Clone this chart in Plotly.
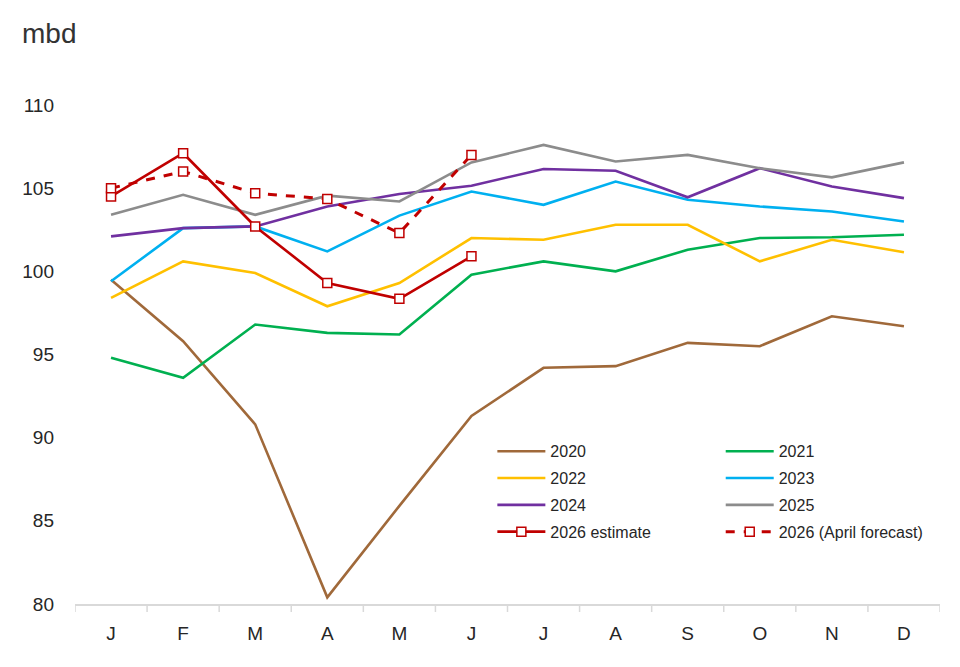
import plotly.graph_objects as go

months = ["J", "F", "M", "A", "M", "J", "J", "A", "S", "O", "N", "D"]
x_idx = list(range(12))

y2020 = [99.5, 95.8, 90.8, 80.4, 85.9, 91.3, 94.2, 94.3, 95.7, 95.5, 97.3, 96.7]
y2021 = [94.8, 93.6, 96.8, 96.3, 96.2, 99.8, 100.6, 100.0, 101.3, 102.0, 102.05, 102.2]
y2022 = [98.4, 100.6, 99.9, 97.9, 99.3, 102.0, 101.9, 102.8, 102.8, 100.6, 101.9, 101.15]
y2023 = [99.4, 102.6, 102.7, 101.2, 103.35, 104.8, 104.0, 105.4, 104.3, 103.9, 103.6, 103.0]
y2024 = [102.1, 102.6, 102.7, 103.9, 104.65, 105.15, 106.15, 106.05, 104.45, 106.2, 105.1, 104.4]
y2025 = [103.4, 104.6, 103.4, 104.55, 104.2, 106.55, 107.6, 106.6, 107.0, 106.2, 105.65, 106.55]
y2026_est = [104.5, 107.1, 102.7, 99.3, 98.35, 100.9]
y2026_apr = [105.0, 106.0, 104.7, 104.35, 102.3, 107.0]

series = [
    ("2020", y2020, "#A0693A", "legend"),
    ("2021", y2021, "#00B050", "legend2"),
    ("2022", y2022, "#FFC000", "legend"),
    ("2023", y2023, "#00B0F0", "legend2"),
    ("2024", y2024, "#7030A0", "legend"),
    ("2025", y2025, "#8C8C8C", "legend2"),
]

RED = "#C00000"
FONT = "Liberation Sans, Arial, sans-serif"
fig = go.Figure()
for name, ys, col, lg in series:
    fig.add_trace(go.Scatter(
        x=x_idx[:len(ys)], y=ys, name=name, mode="lines",
        line=dict(color=col, width=2.6), legend=lg, legendgroup=name,
    ))

fig.add_trace(go.Scatter(
    x=x_idx[:len(y2026_est)], y=y2026_est, name="2026 estimate", mode="lines+markers",
    line=dict(color=RED, width=2.6),
    marker=dict(symbol="square", size=9, color="white", line=dict(color=RED, width=1.5)),
    legend="legend", legendgroup="est",
))
fig.add_trace(go.Scatter(
    x=x_idx[:len(y2026_apr)], y=y2026_apr, name="2026 (April forecast)", mode="lines+markers",
    line=dict(color=RED, width=3, dash="dash"),
    marker=dict(symbol="square", size=9, color="white", line=dict(color=RED, width=1.5)),
    legend="legend2", legendgroup="apr",
))

legend_common = dict(
    font=dict(family=FONT, size=16, color="#262626"),
    bgcolor="rgba(0,0,0,0)", borderwidth=0, orientation="v",
    traceorder="grouped", tracegroupgap=3, itemwidth=48,
    xanchor="left", yanchor="top",
)

# page body has an 8px margin, so the figure is sized 952x659
fig.update_layout(
    width=952, height=659,
    paper_bgcolor="white", plot_bgcolor="white",
    margin=dict(l=67, r=20, t=97, b=63),
    font=dict(family=FONT, color="#262626"),
    legend=dict(x=0.4825, y=0.34, **legend_common),
    legend2=dict(x=0.7465, y=0.34, **legend_common),
    xaxis=dict(
        range=[-0.5, 11.5], tickmode="array", tickvals=x_idx, ticktext=months,
        showgrid=False, zeroline=False, showline=True, linecolor="#D9D9D9", linewidth=1.5,
        ticks="", tickfont=dict(size=19, color="#262626"), ticklabelstandoff=11,
        fixedrange=True,
    ),
    yaxis=dict(
        range=[80, 110], tickmode="array", tickvals=[80, 85, 90, 95, 100, 105, 110],
        showgrid=False, zeroline=False, showline=False, ticks="",
        tickfont=dict(size=19, color="#262626"), ticklabelstandoff=20,
    ),
    annotations=[dict(
        text="mbd", xref="paper", yref="paper", x=-0.0635, y=1.144, xanchor="left", yanchor="middle",
        showarrow=False, font=dict(size=28, color="#333333", family=FONT),
    )],
)

# boundary tick marks on the category axis
for b in [i - 0.5 for i in range(13)]:
    fig.add_shape(type="line", xref="x", yref="paper", x0=b, x1=b, y0=0, y1=-0.016,
                  line=dict(color="#D9D9D9", width=1.5))

fig.write_html("out.html")
